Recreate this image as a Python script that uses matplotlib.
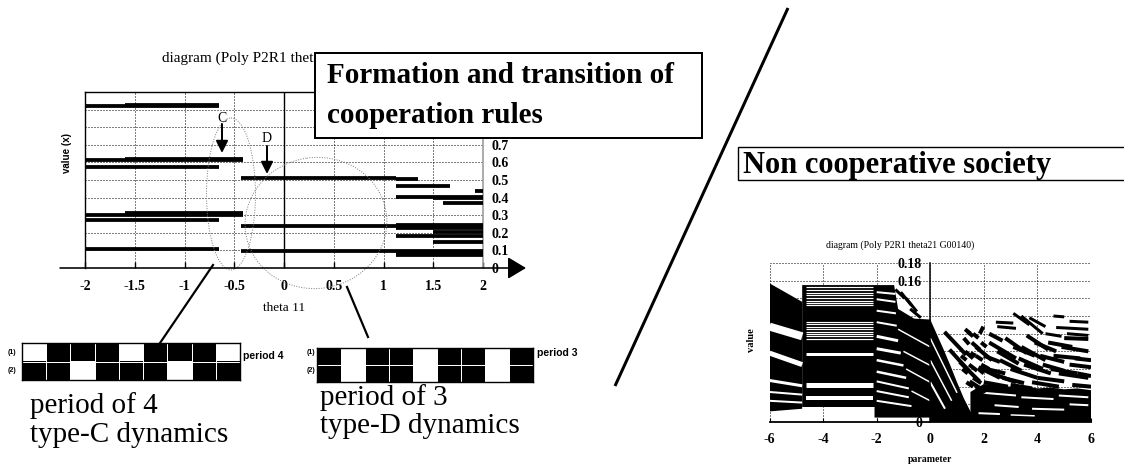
import matplotlib
matplotlib.use('Agg')
import matplotlib.pyplot as plt
from matplotlib.patches import Rectangle, Ellipse

W, H = 1124, 471
DPI = 100
PX = 72.0 / DPI  # points per pixel

SERIF = ['Liberation Serif', 'DejaVu Serif']
SANS = ['Liberation Sans', 'DejaVu Sans']

# ---------------- left diagram (theta 11) ----------------
left_title = 'diagram (Poly P2R1 theta11 G00140)'
left_xticks = [-2, -1.5, -1, -0.5, 0, 0.5, 1, 1.5, 2]
left_xlabels = ['-2', '-1.5', '-1', '-0.5', '0', '0.5', '1', '1.5', '2']
left_yticks = [0, 0.1, 0.2, 0.3, 0.4, 0.5, 0.6, 0.7, 0.8, 0.9, 1.0]
left_ylabels = ['0', '0.1', '0.2', '0.3', '0.4', '0.5', '0.6', '0.7', '', '', '']
# horizontal branches: value, start, end
seg_value = [0.918, 0.925, 0.614, 0.622, 0.575, 0.310, 0.300, 0.274, 0.107,
             0.512, 0.236, 0.097,
             0.503, 0.465, 0.436, 0.405, 0.395, 0.370, 0.245, 0.226, 0.205,
             0.179, 0.150, 0.088, 0.074]
seg_start = [-2.0, -1.6, -2.0, -1.6, -2.0, -1.6, -2.0, -2.0, -2.0,
             -0.43, -0.43, -0.43,
             1.13, 1.13, 1.92, 1.13, 1.5, 1.6, 1.13, 1.13, 1.5,
             1.13, 1.5, 1.13, 1.13]
seg_end = [-0.65, -0.65, -0.41, -0.41, -0.65, -0.41, -0.41, -0.65, -0.65,
           1.13, 2.0, 2.0,
           1.35, 1.67, 2.0, 2.0, 2.0, 2.0, 2.0, 2.0, 2.0,
           2.0, 2.0, 2.0, 2.0]

# ---------------- cell strips ----------------
period4_row1 = [0, 1, 1, 1, 0, 1, 1, 1, 0]
period4_row2 = [1, 1, 0, 1, 1, 1, 0, 1, 1]
period3_row1 = [1, 0, 1, 1, 0, 1, 1, 0, 1]
period3_row2 = [1, 0, 1, 1, 0, 1, 1, 0, 1]

# ---------------- right diagram (theta21) ----------------
right_title = 'diagram (Poly P2R1 theta21 G00140)'
right_xticks = [-6, -4, -2, 0, 2, 4, 6]
right_xlabels = ['-6', '-4', '-2', '0', '2', '4', '6']
right_yticks = [0, 0.02, 0.04, 0.06, 0.08, 0.10, 0.12, 0.14, 0.16, 0.18]
right_ylabels = ['0', '', '', '', '', '', '', '', '0.16', '0.18']

area_a_x = [-6.0, -6.0, -4.78, -4.78]
area_a_y = [0.012, 0.157, 0.136, 0.015]
area_b_x = [-4.78, -4.78, -1.35, -1.2, -0.6, 0.0, 0.25, 0.5, 0.75, 1.0, 1.25,
            1.5, 1.66, 1.66, 0.0, 0.0, -2.08, -2.08]
area_b_y = [0.017, 0.155, 0.155, 0.128, 0.117, 0.116, 0.099, 0.082, 0.064,
            0.045, 0.027, 0.012, 0.004, 0.0, 0.0, 0.005, 0.005, 0.017]
area_c_x = [1.5, 1.5, 2.0, 2.5, 3.0, 3.5, 4.0, 4.5, 5.0, 5.5, 6.0, 6.0]
area_c_y = [0.0, 0.034, 0.043, 0.041, 0.040, 0.041, 0.038, 0.039, 0.037,
            0.038, 0.036, 0.0]

# thin white ruled gaps in the -4.8..-2.1 block
ruled_gap_y = [0.1533, 0.1500, 0.1466, 0.1437, 0.1407, 0.1373, 0.1343, 0.1320,
               0.1136, 0.1106, 0.1080, 0.1053, 0.1023, 0.1000, 0.0970, 0.0939]
wide_gap_y = [0.077, 0.042, 0.027]
wide_gap_w = [3, 5, 4]

# white gaps: x0, y0, x1, y1, width(px)
white_gaps = [
    (-6.0, 0.108, -4.78, 0.097, 8),
    (-6.0, 0.078, -4.78, 0.065, 5),
    (-6.0, 0.047, -4.78, 0.041, 3),
    (-6.0, 0.034, -4.78, 0.031, 2),
    (-6.0, 0.024, -4.78, 0.022, 2),
    (-2.0, 0.147, -1.30, 0.145, 2),
    (-2.0, 0.139, -1.30, 0.136, 2),
    (-2.0, 0.126, -1.28, 0.123, 2),
    (-2.0, 0.113, -1.25, 0.109, 2),
    (-2.0, 0.097, -1.20, 0.092, 3),
    (-2.0, 0.083, -1.10, 0.078, 3),
    (-2.0, 0.070, -1.00, 0.064, 2.5),
    (-2.0, 0.057, -0.90, 0.050, 2.5),
    (-2.0, 0.046, -0.80, 0.038, 2),
    (-2.0, 0.035, -0.80, 0.028, 2),
    (-2.0, 0.024, -0.70, 0.018, 2),
    (-1.2, 0.105, 0.0, 0.085, 1.5),
    (-1.0, 0.080, 0.0, 0.064, 1.5),
    (-0.9, 0.060, 0.0, 0.045, 1.5),
    (-0.7, 0.035, 0.0, 0.024, 1.5),
    (0.0, 0.095, 1.00, 0.033, 1.5),
    (0.0, 0.070, 0.80, 0.024, 1.5),
    (0.0, 0.045, 0.55, 0.015, 2),
    (2.0, 0.033, 3.2, 0.030, 2),
    (3.4, 0.028, 4.6, 0.026, 2),
    (4.8, 0.030, 5.9, 0.028, 2),
    (2.4, 0.019, 3.3, 0.017, 2),
    (3.8, 0.015, 5.0, 0.014, 2),
    (5.2, 0.020, 5.9, 0.019, 2),
    (1.8, 0.010, 2.6, 0.009, 2),
    (3.0, 0.008, 3.9, 0.007, 1.5),
]

# black strokes: x0, y0, x1, y1, width(px)
black_strokes = [
    (-1.30, 0.150, -0.95, 0.140, 3), (-1.10, 0.147, -0.70, 0.132, 3),
    (-0.90, 0.140, -0.50, 0.125, 3), (-0.75, 0.128, -0.35, 0.118, 3),
    (0.53, 0.102, 1.34, 0.076, 4), (0.72, 0.082, 1.47, 0.057, 4),
    (1.10, 0.068, 1.84, 0.046, 4), (1.47, 0.046, 2.08, 0.034, 4),
    (1.25, 0.095, 1.45, 0.088, 4), (1.40, 0.102, 1.60, 0.097, 4),
    (1.30, 0.080, 1.60, 0.072, 4), (1.55, 0.090, 1.85, 0.082, 4),
    (1.45, 0.065, 1.75, 0.058, 4), (1.70, 0.075, 1.95, 0.070, 4),
    (1.60, 0.050, 1.90, 0.044, 4), (1.85, 0.100, 1.98, 0.108, 4),
    (1.80, 0.060, 2.00, 0.055, 4),
    (1.20, 0.060, 1.40, 0.055, 4), (1.30, 0.105, 1.50, 0.100, 4),
    (1.15, 0.075, 1.35, 0.070, 4), (1.50, 0.078, 1.70, 0.075, 4),
    (1.60, 0.100, 1.80, 0.095, 4), (1.90, 0.090, 2.10, 0.085, 4),
    (1.90, 0.065, 2.20, 0.060, 4), (1.35, 0.045, 1.60, 0.040, 4),
    (1.70, 0.040, 2.00, 0.036, 4),
    (1.70, 0.085, 2.30, 0.070, 4), (1.80, 0.062, 2.60, 0.050, 4),
    (2.20, 0.090, 3.20, 0.072, 4), (2.50, 0.080, 3.30, 0.066, 4),
    (2.80, 0.095, 3.60, 0.078, 4), (2.30, 0.055, 3.20, 0.045, 4),
    (3.00, 0.060, 4.00, 0.050, 4), (3.40, 0.085, 4.30, 0.070, 4),
    (3.60, 0.098, 4.40, 0.082, 4), (3.30, 0.072, 4.20, 0.060, 4),
    (4.20, 0.065, 5.00, 0.058, 4), (4.40, 0.090, 5.30, 0.085, 4),
    (4.60, 0.075, 5.60, 0.072, 4), (5.00, 0.095, 5.90, 0.094, 4),
    (4.80, 0.055, 5.90, 0.050, 4), (5.20, 0.065, 6.00, 0.062, 4),
    (3.80, 0.045, 4.80, 0.040, 4), (2.00, 0.045, 2.90, 0.040, 4),
    (5.30, 0.042, 6.00, 0.040, 4),
    (2.00, 0.075, 2.60, 0.068, 4), (2.10, 0.060, 2.80, 0.055, 4),
    (2.60, 0.070, 3.40, 0.058, 4), (2.70, 0.050, 3.50, 0.044, 4),
    (3.10, 0.085, 3.90, 0.075, 4), (3.50, 0.065, 4.50, 0.055, 4),
    (3.90, 0.090, 4.70, 0.080, 4), (4.10, 0.075, 5.00, 0.068, 4),
    (4.50, 0.060, 5.50, 0.055, 4), (4.90, 0.085, 5.90, 0.080, 4),
    (5.40, 0.072, 6.00, 0.070, 4), (5.50, 0.055, 6.00, 0.052, 4),
    (2.20, 0.100, 2.70, 0.092, 4), (4.00, 0.050, 5.00, 0.046, 4),
    (3.00, 0.042, 3.80, 0.038, 4),
    (3.10, 0.123, 3.70, 0.110, 3), (3.40, 0.120, 4.20, 0.100, 3),
    (3.70, 0.118, 4.30, 0.108, 3), (4.60, 0.120, 5.00, 0.119, 3),
    (5.20, 0.114, 5.90, 0.113, 3), (4.70, 0.107, 5.90, 0.105, 3),
    (2.45, 0.113, 3.10, 0.112, 3), (2.50, 0.108, 3.20, 0.106, 3),
    (4.30, 0.100, 4.90, 0.097, 3), (5.10, 0.100, 5.90, 0.098, 3),
]


def frect(x0, y0, x1, y1):
    return [x0 / W, 1 - y1 / H, (x1 - x0) / W, (y1 - y0) / H]


fig = plt.figure(figsize=(W / DPI, H / DPI), dpi=DPI)
fig.patch.set_facecolor('white')
DOT = (0, (1, 2))

# ---------- left chart ----------
ax1 = fig.add_axes(frect(85, 92, 483, 268))
ax1.set_xlim(-2, 2)
ax1.set_ylim(0, 1)
ax1.hlines(seg_value, seg_start, seg_end, colors='black', lw=3.8 * PX, zorder=3)
ax1.yaxis.tick_right()
ax1.set_xticks(left_xticks)
ax1.set_xticklabels(left_xlabels, family=SERIF, fontweight='bold', fontsize=10)
ax1.set_yticks(left_yticks)
ax1.set_yticklabels(left_ylabels, family=SERIF, fontweight='bold', fontsize=10)
ax1.tick_params(axis='y', length=0, pad=6)
ax1.tick_params(axis='x', direction='in', length=4, width=1, pad=9)
ax1.grid(True, color='black', ls=DOT, lw=1.0 * PX)
ax1.axvline(0, color='black', lw=1.4 * PX, zorder=2)
for s in ['left', 'top']:
    ax1.spines[s].set_linewidth(1.4 * PX)
ax1.spines['right'].set_color('#999999')
ax1.spines['right'].set_linewidth(1.6 * PX)
ax1.spines['bottom'].set_visible(False)
ax1.text(162 / W, 1 - 58 / H, left_title, transform=fig.transFigure,
         fontsize=11, family=SERIF, va='center')
ax1.text(0.5, -(308 - 268) / 176, 'theta 11', transform=ax1.transAxes,
         ha='center', va='center', fontsize=9.5, family=SERIF)
ax1.text(-(85 - 67) / 398, (268 - 153) / 176, 'value (x)', transform=ax1.transAxes,
         ha='center', va='center', rotation=90, fontsize=7, family=SANS, fontweight='bold')

# ---------- strips ----------
def strip(rect, row1, row2):
    ax = fig.add_axes(rect)
    ax.imshow([row1, row2], cmap='gray_r', vmin=0, vmax=1, aspect='auto',
              interpolation='nearest')
    for k in range(len(row1) - 1):
        ax.axvline(k + 0.5, color='white', lw=1.0 * PX)
    ax.axhline(0.5, color='white', lw=1.0 * PX)
    ax.set_xticks([])
    ax.set_yticks([])
    for s in ax.spines.values():
        s.set_linewidth(1.4 * PX)
    return ax

strip(frect(22, 343, 240, 380), period4_row1, period4_row2)
strip(frect(317, 348, 533, 382), period3_row1, period3_row2)

# ---------- right chart ----------
ax2 = fig.add_axes(frect(769.5, 263, 1091, 422))
ax2.set_xlim(-6, 6)
ax2.set_ylim(0, 0.18)
ax2.spines['left'].set_position(('data', 0))
ax2.spines['left'].set_zorder(6)
ax2.spines['left'].set_linewidth(1.5 * PX)
ax2.spines['bottom'].set_linewidth(1.8 * PX)
ax2.spines['top'].set_visible(False)
ax2.spines['right'].set_visible(False)
for xs, ys in [(area_a_x, area_a_y), (area_b_x, area_b_y), (area_c_x, area_c_y)]:
    ax2.fill(xs, ys, color='black', lw=0, zorder=3)
ax2.hlines(ruled_gap_y, -4.62, -2.15, colors='white', lw=1.2 * PX, zorder=4)
for yv, wv in zip(wide_gap_y, wide_gap_w):
    ax2.plot([-4.62, -2.15], [yv, yv], color='white', lw=wv * PX, zorder=4,
             solid_capstyle='butt')
for x0, y0, x1, y1, wv in white_gaps:
    ax2.plot([x0, x1], [y0, y1], color='white', lw=wv * PX, zorder=4,
             solid_capstyle='butt')
for x0, y0, x1, y1, wv in black_strokes:
    ax2.plot([x0, x1], [y0, y1], color='black', lw=wv * PX, zorder=5,
             solid_capstyle='butt')
ax2.set_xticks(right_xticks)
ax2.set_xticklabels(right_xlabels, family=SERIF, fontweight='bold', fontsize=10)
ax2.set_yticks(right_yticks)
ax2.set_yticklabels(right_ylabels, family=SERIF, fontweight='bold', fontsize=10)
ax2.tick_params(axis='x', direction='in', length=3, pad=8)
ax2.tick_params(axis='y', length=0, pad=6)
ax2.grid(True, color='black', ls=DOT, lw=1.0 * PX)
ax2.text((900 - 769.5) / 321.5, (422 - 245) / 159, right_title,
         transform=ax2.transAxes, ha='center', va='center', fontsize=7, family=SERIF)
ax2.text(0.5, -(460 - 422) / 159, 'parameter', transform=ax2.transAxes,
         ha='center', va='center', fontsize=7, family=SERIF, fontweight='bold')
ax2.text(-(769.5 - 752) / 321.5, (422 - 340) / 159, 'value', transform=ax2.transAxes,
         ha='center', va='center', rotation=90, fontsize=7.5, family=SERIF,
         fontweight='bold')

# ---------- overlay annotations (pixel coordinates) ----------
ov = fig.add_axes([0, 0, 1, 1], zorder=10)
ov.set_xlim(0, W)
ov.set_ylim(H, 0)
ov.axis('off')
ov.patch.set_alpha(0)

# x axis with arrow for the left chart
ov.annotate('', xy=(526, 268), xytext=(60, 268),
            arrowprops=dict(arrowstyle='-|>,head_length=0.75,head_width=0.45',
                            color='black', lw=1.6 * PX, mutation_scale=15,
                            shrinkA=0, shrinkB=0))

# ellipses
ov.add_patch(Ellipse((231, 194), 49, 152, fill=False, ec='#808080',
                     ls=(0, (1, 1.5)), lw=1.0 * PX))
ov.add_patch(Ellipse((316, 223), 142, 131, angle=-8, fill=False, ec='#808080',
                     ls=(0, (1, 1.5)), lw=1.0 * PX))

# connector lines to strips
ov.plot([213, 160], [265, 343], color='black', lw=2.2 * PX)
ov.plot([347, 368], [287, 337], color='black', lw=2.2 * PX)

# C / D markers
for lx, ly, x, y0, y1, lab in [(222, 118, 222, 124, 153, 'C'), (267, 139, 267, 146, 174, 'D')]:
    ov.text(lx, ly, lab, ha='center', va='center', fontsize=10, family=SERIF)
    ov.annotate('', xy=(x, y1), xytext=(x, y0),
                arrowprops=dict(arrowstyle='-|>,head_length=0.6,head_width=0.3',
                                color='black', lw=2.0 * PX, mutation_scale=12,
                                shrinkA=0, shrinkB=0))

# big diagonal separator
ov.plot([788, 615], [8, 386], color='black', lw=3.0 * PX, solid_capstyle='butt')

# boxes
ov.add_patch(Rectangle((315, 53), 387, 85, fc='white', ec='black', lw=2.0 * PX))
ov.text(327, 83, 'Formation and transition of', fontsize=21, family=SERIF,
        fontweight='bold', va='baseline')
ov.text(327, 123, 'cooperation rules', fontsize=21, family=SERIF,
        fontweight='bold', va='baseline')
ov.add_patch(Rectangle((738, 147), 395, 33, fc='white', ec='black', lw=1.4 * PX))
ov.text(743, 173, 'Non cooperative society', fontsize=22, family=SERIF,
        fontweight='bold', va='baseline')

# strip labels
for x, y, s in [(12, 352, '(1)'), (12, 371, '(2)'), (311, 353, '(1)'), (311, 370, '(2)')]:
    ov.text(x, y, s, ha='center', va='center', fontsize=5, family=SANS,
            fontweight='bold')
ov.text(243, 356, 'period 4', va='center', fontsize=7.5, family=SANS, fontweight='bold')
ov.text(537, 353, 'period 3', va='center', fontsize=7.5, family=SANS, fontweight='bold')

# captions
ov.text(30, 413, 'period of 4', fontsize=21, family=SERIF, va='baseline')
ov.text(30, 442, 'type-C dynamics', fontsize=21, family=SERIF, va='baseline')
ov.text(320, 405, 'period of 3', fontsize=21, family=SERIF, va='baseline')
ov.text(320, 433, 'type-D dynamics', fontsize=21, family=SERIF, va='baseline')

fig.savefig('out.png', dpi=DPI)
